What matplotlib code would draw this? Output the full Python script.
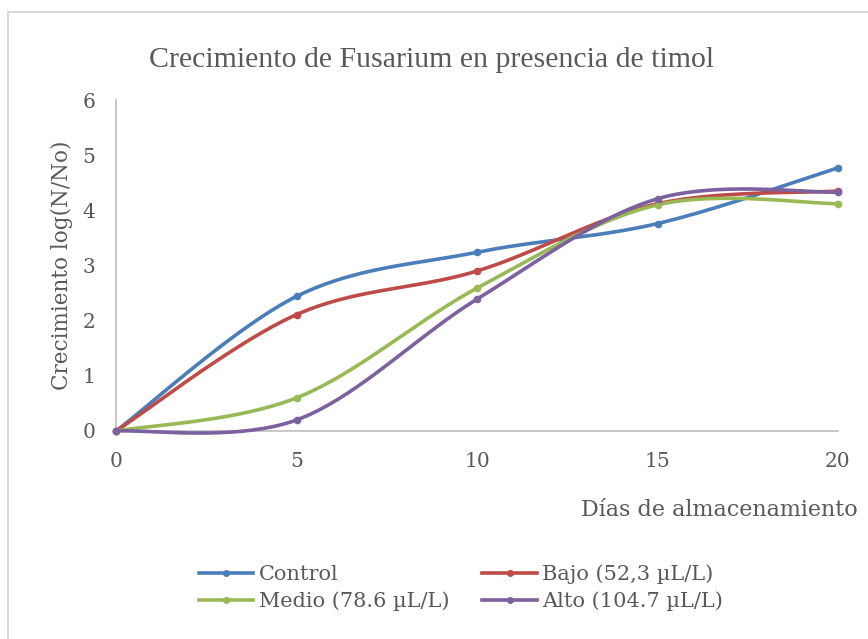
import numpy as np
import matplotlib
matplotlib.use("Agg")
import matplotlib.pyplot as plt
from matplotlib.lines import Line2D

dias = [0, 5, 10, 15, 20]
control = [0.0, 2.44, 3.24, 3.76, 4.77]
bajo = [0.0, 2.11, 2.90, 4.12, 4.35]
medio = [0.0, 0.60, 2.59, 4.10, 4.12]
alto = [0.0, 0.20, 2.39, 4.21, 4.33]

series_names = ["Control", "Bajo (52,3 µL/L)", "Medio (78.6 µL/L)", "Alto (104.7 µL/L)"]
colors = ["#4a7ebb", "#be4b48", "#98b954", "#7d60a0"]
yticks = [0, 1, 2, 3, 4, 5, 6]
xticks = [0, 5, 10, 15, 20]

TXT = "#595959"
SERIF = "DejaVu Serif"


def smooth(x, y, n=40):
    # Excel-like Catmull-Rom smoothing (Bezier with 1/6 tangents)
    x = np.asarray(x, float)
    y = np.asarray(y, float)
    P = np.column_stack([x, y])
    out = []
    for i in range(len(P) - 1):
        p0 = P[i - 1] if i > 0 else P[i]
        p1 = P[i]
        p2 = P[i + 1]
        p3 = P[i + 2] if i + 2 < len(P) else P[i + 1]
        c1 = p1 + (p2 - p0) / 6.0
        c2 = p2 - (p3 - p1) / 6.0
        t = np.linspace(0, 1, n)[:, None]
        b = ((1 - t) ** 3) * p1 + 3 * ((1 - t) ** 2) * t * c1 + 3 * (1 - t) * t ** 2 * c2 + t ** 3 * p2
        out.append(b if i == 0 else b[1:])
    B = np.vstack(out)
    return B[:, 0], B[:, 1]


fig = plt.figure(figsize=(8.68, 6.39), dpi=100)
ax = fig.add_axes([116 / 868, 1 - 431 / 639, (838 - 116) / 868, (431 - 100) / 639])

for vals, c in zip([control, bajo, medio, alto], colors):
    sx, sy = smooth(dias, vals)
    ax.plot(sx, sy, color=c, lw=2.6, solid_capstyle="round", zorder=3, clip_on=False)
    ax.plot(dias, vals, "o", color=c, ms=4.5, zorder=4, clip_on=False)

ax.set_xlim(0, 20)
ax.set_ylim(0, 6)
ax.set_xticks(xticks)
ax.set_yticks(yticks)
ax.set_xticklabels([str(v) for v in xticks], fontfamily=SERIF, fontsize=14.5, color=TXT)
ax.set_yticklabels([str(v) for v in yticks], fontfamily=SERIF, fontsize=14.5, color=TXT)
ax.tick_params(axis="y", length=0, pad=15)
ax.tick_params(axis="x", length=0, pad=15)
for s in ["top", "right"]:
    ax.spines[s].set_visible(False)
for s in ["left", "bottom"]:
    ax.spines[s].set_color("#bfbfbf")
    ax.spines[s].set_linewidth(1.2)

fig.text(432 / 868, 1 - 60 / 639, "Crecimiento de Fusarium en presencia de timol",
         ha="center", va="center", fontfamily="Liberation Serif", fontsize=21.5, color=TXT)
fig.text(62 / 868, 1 - 265 / 639, "Crecimiento log(N/No)", rotation=90,
         ha="center", va="center", fontfamily=SERIF, fontsize=15.5, color=TXT)
fig.text(858 / 868, 1 - 510 / 639, "Días de almacenamiento", ha="right", va="center",
         fontfamily=SERIF, fontsize=16, color=TXT)

handles = [Line2D([], [], color=c, lw=2.6, marker="o", ms=4) for c in colors]
order = [0, 2, 1, 3]
leg = fig.legend([handles[i] for i in order], [series_names[i] for i in order],
                 loc="center", bbox_to_anchor=(461 / 868, 1 - 588 / 639),
                 ncol=2, frameon=False, handlelength=2.6, handletextpad=0.25, columnspacing=1.6,
                 labelspacing=0.35, prop={"family": SERIF, "size": 15})
for t in leg.get_texts():
    t.set_color(TXT)

# outer chart-area border (left and top edges visible)
fig.add_artist(Line2D([8 / 868, 8 / 868], [0, 1 - 12 / 639], transform=fig.transFigure, color="#d9d9d9", lw=1.5))
fig.add_artist(Line2D([8 / 868, 1], [1 - 12 / 639, 1 - 12 / 639], transform=fig.transFigure, color="#d9d9d9", lw=1.5))

fig.savefig("out.png", dpi=100)
